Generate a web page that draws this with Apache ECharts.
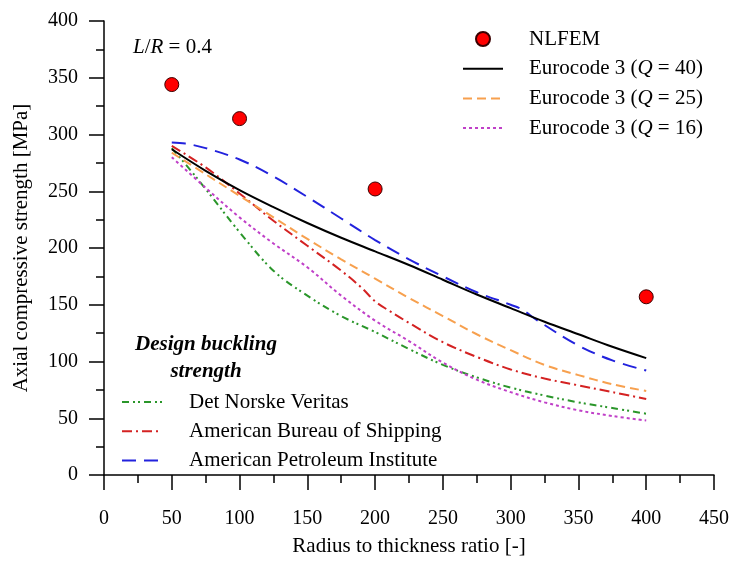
<!DOCTYPE html>
<html>
<head>
<meta charset="utf-8">
<script src="https://cdn.jsdelivr.net/npm/echarts@6/dist/echarts.min.js"></script>
<style>
  html, body { margin: 0; padding: 0; background: #fff; }
  #chart { width: 732px; height: 562px; }
</style>
</head>
<body>
<div id="chart"></div>
<script>
// Axial compressive strength vs radius-to-thickness ratio (L/R = 0.4)

// NLFEM results
const nlfemX = [50, 100, 200, 400];
const nlfemY = [344, 314, 252, 157];

// Eurocode 3 curves (common R/t grid)
const ecX = [50, 75, 100, 125, 150, 175, 200, 225, 250, 275, 300, 325, 350, 375, 400];
const ecQ40 = [287, 268, 251, 236, 222, 209, 197, 185, 172, 159, 147, 135, 124, 113, 103];
const ecQ25 = [284, 265, 246, 227, 208, 190, 173, 156, 140, 124, 110, 97, 88, 80, 74];
const ecQ16 = [280, 253, 227, 204, 183, 158, 136, 118, 99, 84, 73, 64, 57, 52, 48];

// Design buckling strength curves
const dnvX = [50, 60, 75, 100, 125, 150, 175, 200, 225, 250, 275, 300, 325, 350, 375, 400];
const dnvY = [288, 274, 252, 214, 180, 158, 140, 126, 111, 97, 86, 77, 70, 64, 59, 54];
const absX = [50, 75, 100, 125, 150, 175, 190, 200, 210, 225, 250, 275, 300, 325, 350, 375, 400];
const absY = [290, 271, 248, 224, 202, 180, 165, 153, 145, 134, 117, 104, 93, 85, 79, 73, 67];
const apiX = [50, 60, 75, 100, 125, 150, 175, 200, 225, 250, 275, 300, 308, 320, 350, 375, 400];
const apiY = [293, 292, 288, 278, 263, 245, 226, 207, 190, 175, 161, 150, 146, 136, 114, 101, 92];

// Axis ticks
const xTicks = { min: 0, max: 450, step: 50 };
const yTicks = { min: 0, max: 400, step: 50 };

const FONT = "'Liberation Serif', 'Times New Roman', serif";
const zip = (xs, ys) => xs.map((x, i) => [x, ys[i]]);

function curve(name, xs, ys, color, dash, width) {
  return {
    name: name,
    type: 'line',
    data: zip(xs, ys),
    symbol: 'none',
    smooth: 0.35,
    lineStyle: { color: color, width: width || 2, type: dash },
    itemStyle: { color: color },
    z: 2
  };
}

// legend entries for curves: line sample only, no marker
const hideMarker = { color: 'rgba(0,0,0,0)', borderColor: 'rgba(0,0,0,0)', borderWidth: 0 };
const lineEntry = name => ({ name: name, itemStyle: hideMarker, lineStyle: { width: 2 } });

const legendText = {
  fontFamily: FONT,
  fontSize: 21,
  color: '#000',
  lineHeight: 22,
  rich: {
    q: { fontFamily: FONT, fontSize: 21, fontStyle: 'italic', color: '#000', lineHeight: 22 }
  }
};

const chart = echarts.init(document.getElementById('chart'), null, { renderer: 'canvas' });

chart.setOption({
  animation: false,
  backgroundColor: '#fff',
  grid: { left: 104, right: 16, top: 21, bottom: 85, containLabel: false },
  xAxis: {
    type: 'value',
    min: xTicks.min, max: xTicks.max, interval: xTicks.step,
    axisLine: { show: true, lineStyle: { color: '#000', width: 1.5 } },
    axisTick: { show: true, inside: false, length: 15, lineStyle: { color: '#000', width: 1.5 } },
    minorTick: { show: true, splitNumber: 2, length: 8, lineStyle: { color: '#000', width: 1.5 } },
    splitLine: { show: false },
    axisLabel: { color: '#000', fontFamily: FONT, fontSize: 20, margin: 34 },
    name: 'Radius to thickness ratio [-]',
    nameLocation: 'middle',
    nameGap: 61,
    nameTextStyle: { color: '#000', fontFamily: FONT, fontSize: 21 }
  },
  yAxis: {
    type: 'value',
    min: yTicks.min, max: yTicks.max, interval: yTicks.step,
    axisLine: { show: true, lineStyle: { color: '#000', width: 1.5 } },
    axisTick: { show: true, inside: false, length: 15, lineStyle: { color: '#000', width: 1.5 } },
    minorTick: { show: true, splitNumber: 2, length: 8, lineStyle: { color: '#000', width: 1.5 } },
    splitLine: { show: false },
    axisLabel: { color: '#000', fontFamily: FONT, fontSize: 20, margin: 26 },
    name: 'Axial compressive strength [MPa]',
    nameLocation: 'middle',
    nameGap: 72,
    nameTextStyle: { color: '#000', fontFamily: FONT, fontSize: 21 }
  },
  legend: [
    {
      data: ['NLFEM', lineEntry('Eurocode 3 (Q = 40)'), lineEntry('Eurocode 3 (Q = 25)'), lineEntry('Eurocode 3 (Q = 16)')],
      orient: 'vertical',
      left: 462, top: 28,
      padding: 0,
      itemWidth: 40, itemHeight: 14, itemGap: 7.7,
      selectedMode: false,
      lineStyle: { width: 2 },
      formatter: n => n.replace('Q', '{q|Q}'),
      textStyle: Object.assign({ padding: [0, 0, 0, 21] }, legendText)
    },
    {
      data: [lineEntry('Det Norske Veritas'), lineEntry('American Bureau of Shipping'), lineEntry('American Petroleum Institute')],
      orient: 'vertical',
      left: 121, top: 391,
      padding: 0,
      itemWidth: 40, itemHeight: 14, itemGap: 7.3,
      selectedMode: false,
      lineStyle: { width: 2 },
      textStyle: Object.assign({ padding: [0, 0, 0, 22] }, legendText)
    }
  ],
  graphic: [
    {
      type: 'text',
      left: 133, top: 37,
      style: {
        text: '{i|L}/{i|R} = 0.4',
        font: '21px ' + FONT,
        fill: '#000',
        rich: { i: { fontFamily: FONT, fontSize: 21, fontStyle: 'italic', fill: '#000' } }
      }
    },
    {
      type: 'text',
      x: 206, y: 345,
      style: {
        text: 'Design buckling',
        font: 'italic bold 21px ' + FONT,
        fill: '#000',
        align: 'center',
        verticalAlign: 'middle'
      }
    },
    {
      type: 'text',
      x: 206, y: 372,
      style: {
        text: 'strength',
        font: 'italic bold 21px ' + FONT,
        fill: '#000',
        align: 'center',
        verticalAlign: 'middle'
      }
    }
  ],
  series: [
    curve('Det Norske Veritas', dnvX, dnvY, '#2a962a', [7, 4, 2, 3, 2, 4]),
    curve('American Bureau of Shipping', absX, absY, '#d42222', [10, 4, 2, 4]),
    curve('American Petroleum Institute', apiX, apiY, '#2222dd', [14, 8]),
    curve('Eurocode 3 (Q = 16)', ecX, ecQ16, '#c040c8', [3, 3]),
    curve('Eurocode 3 (Q = 25)', ecX, ecQ25, '#f7a04e', [9, 5]),
    curve('Eurocode 3 (Q = 40)', ecX, ecQ40, '#000000', 'solid'),
    {
      name: 'NLFEM',
      type: 'scatter',
      data: zip(nlfemX, nlfemY),
      symbol: 'circle',
      symbolSize: 14,
      itemStyle: { color: '#ff0000', borderColor: '#3a0000', borderWidth: 1, opacity: 1 },
      z: 5
    }
  ]
});
</script>
</body>
</html>
